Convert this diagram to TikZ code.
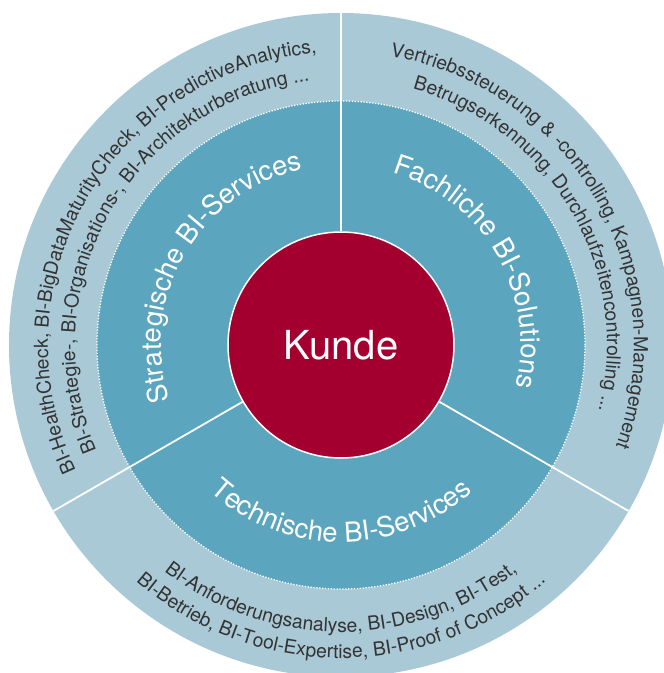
\documentclass[tikz,border=0pt]{standalone}
\usepackage{fontspec}
\setmainfont{TeX Gyre Heros}
\usetikzlibrary{decorations.text}

\definecolor{ringouter}{HTML}{AAC9D6}
\definecolor{ringmiddle}{HTML}{5BA5BE}
\definecolor{kundered}{HTML}{A30030}
\definecolor{labelgray}{HTML}{333333}

\newcommand{\ringfont}{\fontsize{27.5}{29}\selectfont}
\newcommand{\outerfont}{\fontsize{19.3}{21}\selectfont}

\tikzset{
  ringlabel/.style={decorate, decoration={text along path, text align=center,
      text color=white, text={|\ringfont|#1}}},
  outerlabel/.style={decorate, decoration={text along path, text align=center,
      text color=labelgray, text={|\outerfont|#1}}},
  divider/.style={white, line width=1.8pt}
}

\begin{document}
\begin{tikzpicture}

    \clip (-341pt,-328pt) rectangle (323pt,345pt);

    \coordinate (o) at (0,0);
    \coordinate (rimN) at (90:332pt);
    \coordinate (rimSW) at (210:332pt);
    \coordinate (rimSE) at (330:332pt);

    \fill[ringouter] (o) circle[radius=332pt];
    \fill[ringmiddle] (o) circle[radius=244pt];
    \draw[white, line width=1.3pt, dash pattern=on 1.3pt off 1.6pt]
    (o) circle[radius=244pt];

    \node[circle, fill=kundered, draw=white, line width=1.5pt,
      minimum size=226pt, inner sep=0pt, text=white,
      font=\fontsize{40}{42}\selectfont] (kunde) at (o) {Kunde};

    \draw[divider] (kunde.90) -- (rimN);
    \draw[divider] (kunde.210) -- (rimSW);
    \draw[divider] (kunde.330) -- (rimSE);

    % middle ring
    \path[ringlabel={Strategische BI-Services}]
    (212:180pt) arc[start angle=212, end angle=88, radius=180pt];
    \path[ringlabel={Fachliche BI-Solutions}]
    (92:180pt) arc[start angle=92, end angle=-32, radius=180pt];
    \path[ringlabel={Technische BI-Services}]
    (208:197pt) arc[start angle=208, end angle=332, radius=197pt];

    % outer ring
    \path[outerlabel={BI-HealthCheck, BI-BigDataMaturityCheck, BI-PredictiveAnalytics,}]
    (222:293pt) arc[start angle=222, end angle=78, radius=293pt];
    \path[outerlabel={BI-Strategie-, BI-Organisations-, BI-Architekturberatung ...}]
    (222:266pt) arc[start angle=222, end angle=78, radius=266pt];

    \path[outerlabel={Vertriebssteuerung {\&} -controlling, Kampagnen-Management}]
    (102:293pt) arc[start angle=102, end angle=-42, radius=293pt];
    \path[outerlabel={Betrugserkennung, Durchlaufzeitencontrolling ...}]
    (102:266pt) arc[start angle=102, end angle=-42, radius=266pt];

    \path[outerlabel={BI-Anforderungsanalyse, BI-Design, BI-Test,}]
    (198:287pt) arc[start angle=198, end angle=342, radius=287pt];
    \path[outerlabel={BI-Betrieb, BI-Tool-Expertise, BI-Proof of Concept ...}]
    (198:313pt) arc[start angle=198, end angle=342, radius=313pt];

\end{tikzpicture}
\end{document}
